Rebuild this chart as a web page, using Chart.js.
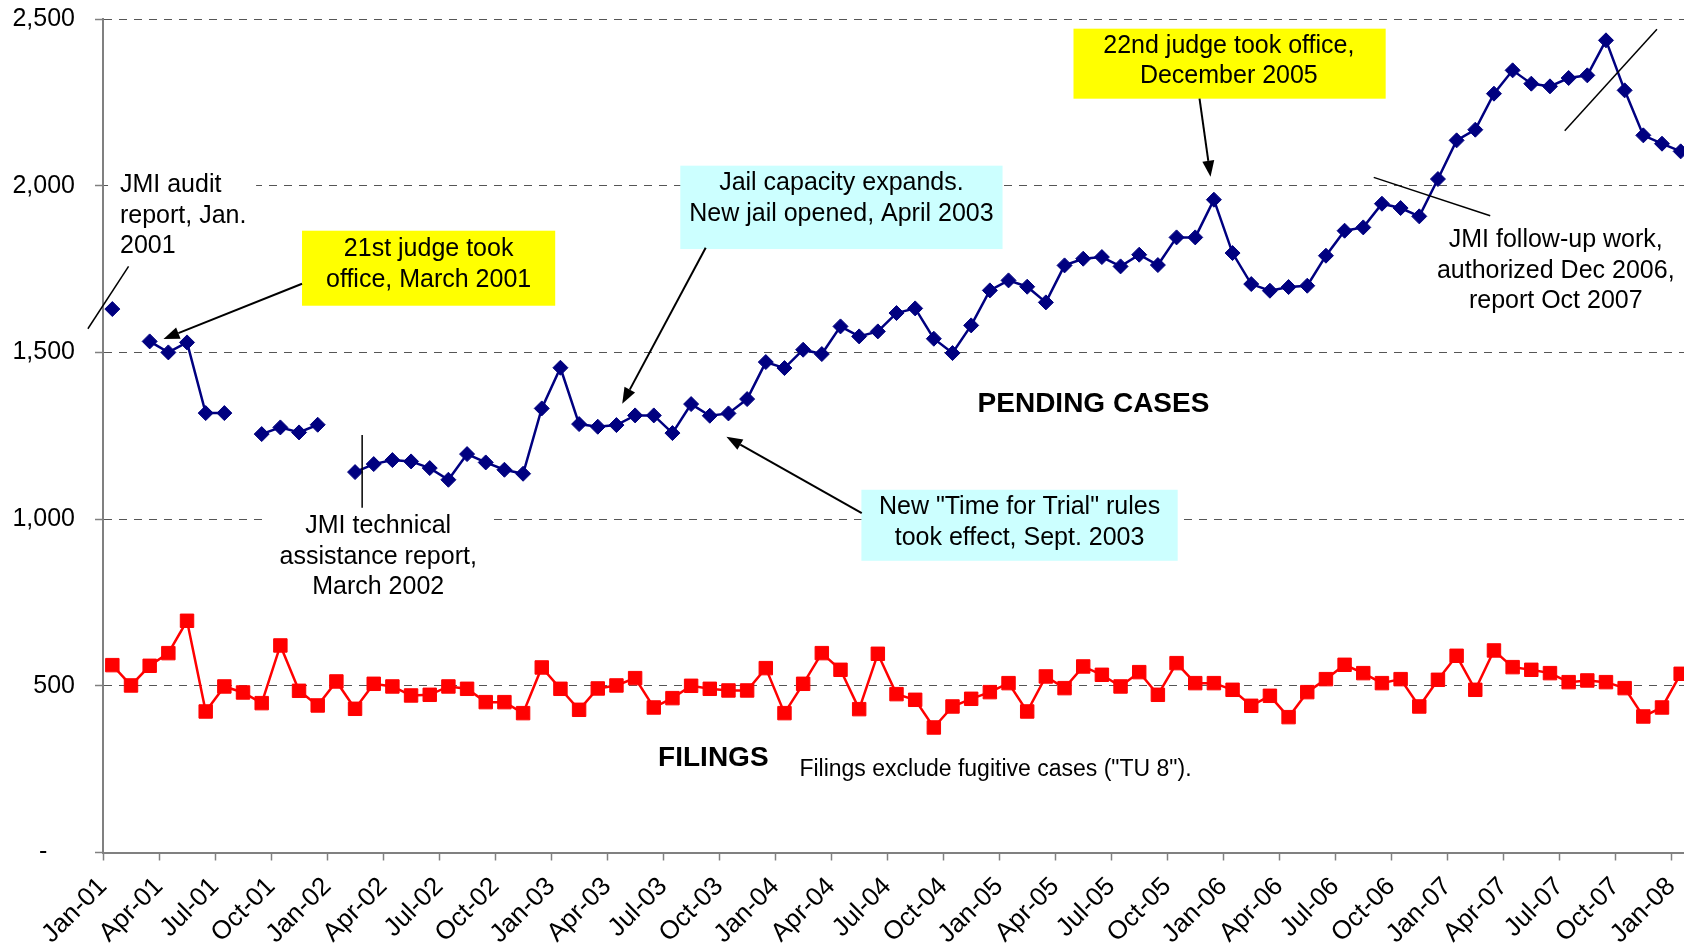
<!DOCTYPE html>
<html>
<head>
<meta charset="utf-8">
<title>Pending cases and filings, 2001-2008</title>
<script src="https://cdn.jsdelivr.net/npm/chart.js@4.4.1/dist/chart.umd.min.js"></script>
<style>
  html, body { margin: 0; padding: 0; background: #fff; overflow: hidden; }
  #wrap { width: 1684px; height: 948px; overflow: hidden; }
</style>
</head>
<body>
<div id="wrap"><canvas id="chart" width="1690" height="948"></canvas></div>
<script>
/* ── data ───────────────────────────────────────── */
const months = [
  'Jan-01','Feb-01','Mar-01','Apr-01','May-01','Jun-01','Jul-01','Aug-01','Sep-01','Oct-01','Nov-01','Dec-01',
  'Jan-02','Feb-02','Mar-02','Apr-02','May-02','Jun-02','Jul-02','Aug-02','Sep-02','Oct-02','Nov-02','Dec-02',
  'Jan-03','Feb-03','Mar-03','Apr-03','May-03','Jun-03','Jul-03','Aug-03','Sep-03','Oct-03','Nov-03','Dec-03',
  'Jan-04','Feb-04','Mar-04','Apr-04','May-04','Jun-04','Jul-04','Aug-04','Sep-04','Oct-04','Nov-04','Dec-04',
  'Jan-05','Feb-05','Mar-05','Apr-05','May-05','Jun-05','Jul-05','Aug-05','Sep-05','Oct-05','Nov-05','Dec-05',
  'Jan-06','Feb-06','Mar-06','Apr-06','May-06','Jun-06','Jul-06','Aug-06','Sep-06','Oct-06','Nov-06','Dec-06',
  'Jan-07','Feb-07','Mar-07','Apr-07','May-07','Jun-07','Jul-07','Aug-07','Sep-07','Oct-07','Nov-07','Dec-07',
  'Jan-08'
];

const pendingCases = [
  1630, null, 1533, 1500, 1530, 1318, 1318, null, 1255, 1275, 1260, 1283,
  null, 1141, 1165, 1177, 1173, 1153, 1118, 1195, 1170, 1148, 1136, 1332,
  1454, 1285, 1277, 1282, 1311, 1311, 1258, 1345, 1310, 1317, 1360, 1471,
  1453, 1508, 1495, 1578, 1548, 1563, 1618, 1632, 1541, 1498, 1581, 1686,
  1716, 1697, 1650, 1761, 1781, 1786, 1758, 1793, 1762, 1845, 1845, 1958,
  1798, 1705, 1685, 1696, 1700, 1790, 1865, 1875, 1946, 1933, 1908, 2020,
  2136, 2168, 2276, 2346, 2306, 2298, 2323, 2331, 2436, 2286, 2151, 2126,
  2103
];

const filings = [
  562, 501, 560, 598, 695, 423, 498, 480, 448, 621, 485, 441,
  513, 431, 506, 498, 471, 473, 498, 491, 451, 451, 418, 555,
  491, 428, 492, 501, 523, 435, 463, 500, 491, 486, 486, 553,
  418, 506, 598, 548, 430, 596, 475, 458, 375, 438, 461, 481,
  508, 423, 528, 493, 558, 533, 498, 541, 473, 568, 508, 508,
  488, 440, 470, 406, 481, 520, 563, 538, 508, 520, 438, 518,
  590, 488, 606, 556, 548, 538, 511, 516, 511, 493, 408, 435,
  536
];

const tickLabels = [
  'Jan-01','Apr-01','Jul-01','Oct-01','Jan-02','Apr-02','Jul-02','Oct-02',
  'Jan-03','Apr-03','Jul-03','Oct-03','Jan-04','Apr-04','Jul-04','Oct-04',
  'Jan-05','Apr-05','Jul-05','Oct-05','Jan-06','Apr-06','Jul-06','Oct-06',
  'Jan-07','Apr-07','Jul-07','Oct-07','Jan-08'
];
const yTicks = [0, 500, 1000, 1500, 2000, 2500];

/* ── annotations (month index / value coordinates) ── */
const FONT = '"Liberation Sans", Arial, sans-serif';

const masks = [
  { x1: 0.27, x2: 8.2, y1: 2077, y2: 1783 },
  { x1: 8.68, x2: 20.8, y1: 1043, y2: 757 }
];

const boxes = [
  { x1: 10.66, x2: 24.22, y1: 1865, y2: 1640, fill: '#FFFF00' },
  { x1: 30.92, x2: 48.18, y1: 2060, y2: 1810, fill: '#CCFFFF' },
  { x1: 40.62, x2: 57.56, y1: 1088, y2: 875, fill: '#CCFFFF' },
  { x1: 51.98, x2: 68.70, y1: 2471, y2: 2261, fill: '#FFFF00' }
];

const notes = [
  { lines: ['JMI audit', 'report, Jan.', '2001'], x: 0.91, y: 1910, align: 'left' },
  { lines: ['JMI technical', 'assistance report,', 'March 2002'], x: 14.74, y: 887 },
  { lines: ['21st judge took', 'office, March 2001'], x: 17.44, y: 1763 },
  { lines: ['Jail capacity expands.', 'New jail opened, April 2003'], x: 39.55, y: 1961 },
  { lines: ['New "Time for Trial" rules', 'took effect, Sept. 2003'], x: 49.09, y: 989 },
  { lines: ['22nd judge took office,', 'December 2005'], x: 60.3, y: 2374 },
  { lines: ['JMI follow-up work,', 'authorized Dec 2006,', 'report Oct 2007'], x: 77.81, y: 1745 },
  { lines: ['PENDING CASES'], x: 53.05, y: 1343, bold: true },
  { lines: ['FILINGS'], x: 32.69, y: 284, bold: true },
  { lines: ['Filings exclude fugitive cases ("TU 8").'], x: 37.3, y: 248, align: 'left', size: 23 }
];

const arrows = [
  { x1: 10.66, y1: 1706, x2: 3.24, y2: 1540 },
  { x1: 32.28, y1: 1814, x2: 27.81, y2: 1346 },
  { x1: 40.64, y1: 1018, x2: 33.39, y2: 1247 },
  { x1: 58.73, y1: 2261, x2: 59.32, y2: 2027 }
];

const leaders = [
  { x1: -0.81, y1: 1571, x2: 1.37, y2: 1758 },
  { x1: 13.88, y1: 1252, x2: 13.88, y2: 1034 },
  { x1: 68.06, y1: 2025, x2: 74.30, y2: 1910 },
  { x1: 78.29, y1: 2165, x2: 83.23, y2: 2469 }
];

const annotations = {
  id: 'annotations',
  beforeDatasetsDraw(chart) {
    const { ctx, scales: { x, y } } = chart;
    ctx.save();
    ctx.fillStyle = '#fff';
    masks.forEach(m => {
      ctx.fillRect(x.getPixelForValue(m.x1), y.getPixelForValue(m.y1),
        x.getPixelForValue(m.x2) - x.getPixelForValue(m.x1), y.getPixelForValue(m.y2) - y.getPixelForValue(m.y1));
    });
    boxes.forEach(b => {
      ctx.fillStyle = b.fill;
      ctx.fillRect(x.getPixelForValue(b.x1), y.getPixelForValue(b.y1),
        x.getPixelForValue(b.x2) - x.getPixelForValue(b.x1), y.getPixelForValue(b.y2) - y.getPixelForValue(b.y1));
    });
    ctx.restore();
  },
  afterDatasetsDraw(chart) {
    const { ctx, scales: { x, y } } = chart;
    ctx.save();
    ctx.fillStyle = '#000';
    ctx.textBaseline = 'middle';
    notes.forEach(n => {
      const size = n.size || (n.bold ? 28 : 25);
      const lh = 30.7;
      ctx.font = (n.bold ? 'bold ' : '') + size + 'px ' + FONT;
      ctx.textAlign = n.align || 'center';
      const cx = x.getPixelForValue(n.x);
      const cy = y.getPixelForValue(n.y);
      n.lines.forEach((t, k) => {
        ctx.fillText(t, cx, cy + (k - (n.lines.length - 1) / 2) * lh);
      });
    });

    ctx.strokeStyle = '#000';
    ctx.lineWidth = 1.5;
    leaders.forEach(l => {
      ctx.beginPath();
      ctx.moveTo(x.getPixelForValue(l.x1), y.getPixelForValue(l.y1));
      ctx.lineTo(x.getPixelForValue(l.x2), y.getPixelForValue(l.y2));
      ctx.stroke();
    });

    ctx.lineWidth = 2;
    arrows.forEach(a => {
      const x1 = x.getPixelForValue(a.x1), y1 = y.getPixelForValue(a.y1);
      const x2 = x.getPixelForValue(a.x2), y2 = y.getPixelForValue(a.y2);
      const ang = Math.atan2(y2 - y1, x2 - x1);
      const len = 16, half = 6;
      const bx = x2 - len * Math.cos(ang), by = y2 - len * Math.sin(ang);
      ctx.beginPath();
      ctx.moveTo(x1, y1);
      ctx.lineTo(bx, by);
      ctx.stroke();
      ctx.beginPath();
      ctx.moveTo(x2, y2);
      ctx.lineTo(bx + half * Math.sin(ang), by - half * Math.cos(ang));
      ctx.lineTo(bx - half * Math.sin(ang), by + half * Math.cos(ang));
      ctx.closePath();
      ctx.fill();
    });
    ctx.restore();
  }
};

/* ── chart ──────────────────────────────────────── */
Chart.defaults.font.family = FONT;
Chart.defaults.color = '#000';

new Chart(document.getElementById('chart'), {
  type: 'line',
  data: {
    datasets: [
      {
        label: 'Pending cases',
        data: months.map((m, i) => ({ x: i + 0.5, y: pendingCases[i] })),
        borderColor: '#000080',
        backgroundColor: '#000080',
        borderWidth: 2.5,
        pointStyle: 'rectRot',
        pointRadius: 7.5,
        pointBorderWidth: 1,
        spanGaps: false,
        tension: 0
      },
      {
        label: 'Filings',
        data: months.map((m, i) => ({ x: i + 0.5, y: filings[i] })),
        borderColor: '#FF0000',
        backgroundColor: '#FF0000',
        borderWidth: 2.5,
        pointStyle: 'rect',
        pointRadius: 9.5,
        pointBorderWidth: 1,
        tension: 0
      }
    ]
  },
  options: {
    responsive: false,
    devicePixelRatio: 1,
    animation: false,
    layout: { autoPadding: false, padding: { top: 19, right: 0, bottom: 0, left: 0 } },
    plugins: { legend: { display: false }, tooltip: { enabled: false } },
    scales: {
      x: {
        type: 'linear',
        min: 0,
        max: 85,
        afterBuildTicks: (s) => { s.ticks = tickLabels.map((t, k) => ({ value: k * 3 })); },
        afterFit: (s) => { s.height = 95.5; s.paddingLeft = 0; s.paddingRight = 0; },
        ticks: {
          autoSkip: false,
          minRotation: 45,
          maxRotation: 45,
          padding: 11,
          font: { size: 26 },
          callback: (v) => tickLabels[Math.round(v / 3)]
        },
        grid: { drawOnChartArea: false, drawTicks: true, tickLength: 8, tickColor: '#808080', tickWidth: 1.5 },
        border: { color: '#808080', width: 2 }
      },
      y: {
        min: 0,
        max: 2500,
        afterBuildTicks: (s) => { s.ticks = yTicks.map(v => ({ value: v })); },
        afterFit: (s) => { s.width = 103; s.paddingTop = 0; s.paddingBottom = 0; },
        ticks: {
          padding: 20,
          font: { size: 25 },
          callback: (v) => v === 0 ? '-    ' : v.toLocaleString('en-US')
        },
        grid: {
          color: (c) => c.tick && c.tick.value === 0 ? 'rgba(0,0,0,0)' : '#555',
          lineWidth: 1,
          tickLength: 8,
          tickColor: '#808080',
          tickWidth: 1.5
        },
        border: { color: '#808080', width: 2, dash: [8, 7] }
      }
    }
  },
  plugins: [annotations]
});
</script>
</body>
</html>
